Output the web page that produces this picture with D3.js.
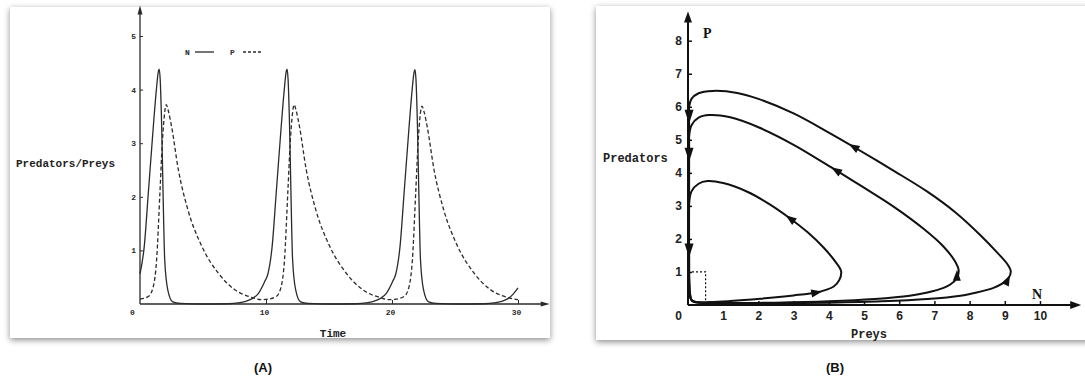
<!DOCTYPE html>
<html>
<head>
<meta charset="utf-8">
<script src="https://d3js.org/d3.v7.min.js"></script>
<style>
    body { margin: 0; background: #fff; }
    svg { display: block; }
</style>
</head>
<body>
<svg id="chart" width="1085" height="381"></svg>
<script>
// Panel A: time series, [time, value]
const preysN = [
    [0, 0.56], [0.34, 1.08], [0.66, 2.07], [1.06, 3.32], [1.3, 4.0], [1.45, 4.33], [1.52, 4.38],
    [1.6, 4.2], [1.72, 3.32], [1.83, 2.07], [1.96, 0.83], [2.2, 0.27], [2.6, 0.04], [3.2, 0.01],
    [5, 0], [7, 0.005], [7.8, 0.02], [8.4, 0.05], [8.9, 0.1], [9.4, 0.2], [9.9, 0.42],
    [10.15, 0.56], [10.49, 1.08], [10.81, 2.07], [11.21, 3.32], [11.45, 4.0], [11.6, 4.33], [11.67, 4.38],
    [11.75, 4.2], [11.87, 3.32], [11.98, 2.07], [12.11, 0.83], [12.35, 0.27], [12.75, 0.04], [13.35, 0.01],
    [15.15, 0], [17.15, 0.005], [17.95, 0.02], [18.55, 0.05], [19.05, 0.1], [19.55, 0.2], [20.05, 0.42],
    [20.3, 0.56], [20.64, 1.08], [20.96, 2.07], [21.36, 3.32], [21.6, 4.0], [21.75, 4.32], [21.82, 4.37],
    [21.9, 4.2], [22.02, 3.32], [22.13, 2.07], [22.26, 0.83], [22.5, 0.27], [22.9, 0.04], [23.5, 0.01],
    [25.3, 0], [27.3, 0.005], [28.1, 0.02], [28.7, 0.05], [29.2, 0.1], [29.6, 0.18], [30.0, 0.3]
];
const predatorsP = [
    [0, 0.09], [0.66, 0.14], [1.06, 0.33], [1.32, 0.83], [1.58, 2.07], [1.77, 3.0], [1.95, 3.55],
    [2.08, 3.72], [2.25, 3.6], [2.5, 3.32], [3.04, 2.51], [3.8, 1.76], [4.9, 1.08], [6.2, 0.58],
    [7.5, 0.27], [8.9, 0.12], [9.6, 0.08],
    [10.15, 0.09], [10.81, 0.14], [11.21, 0.33], [11.47, 0.83], [11.73, 2.07], [11.92, 3.0], [12.1, 3.55],
    [12.23, 3.72], [12.4, 3.6], [12.65, 3.32], [13.19, 2.51], [13.95, 1.76], [15.05, 1.08], [16.35, 0.58],
    [17.65, 0.27], [19.05, 0.12], [19.75, 0.08],
    [20.3, 0.09], [20.96, 0.14], [21.36, 0.33], [21.62, 0.83], [21.88, 2.07], [22.07, 3.0], [22.25, 3.55],
    [22.38, 3.69], [22.55, 3.58], [22.8, 3.3], [23.34, 2.5], [24.1, 1.76], [25.2, 1.08], [26.5, 0.58],
    [27.8, 0.27], [29.2, 0.12], [30.0, 0.08]
];
const timeTicks = [0, 10, 20, 30];
const popTicks = [1, 2, 3, 4, 5];

// Panel B: phase plane, [N, P], counterclockwise
const orbitLarge = [
    [0.03, 6.0], [0.1, 6.24], [0.3, 6.41], [0.7, 6.48], [1.4, 6.42], [2.0, 6.24], [3.0, 5.8],
    [4.0, 5.22], [4.7, 4.79], [5.8, 4.09], [6.8, 3.43], [7.6, 2.8], [8.3, 2.12], [8.8, 1.57],
    [9.07, 1.24], [9.17, 1.02], [9.1, 0.8], [8.9, 0.63], [8.68, 0.52], [8.2, 0.38], [7.74, 0.28],
    [6.8, 0.18], [5.5, 0.11], [4, 0.07], [2.5, 0.05], [1, 0.05], [0.35, 0.07], [0.12, 0.12],
    [0.05, 0.4], [0.03, 1.5], [0.03, 3.5], [0.03, 5.0], [0.03, 6.0]
];
const orbitMiddle = [
    [0.03, 5.1], [0.1, 5.44], [0.3, 5.67], [0.6, 5.75], [1.2, 5.68], [2.0, 5.38], [3.0, 4.85],
    [4.2, 4.08], [5.0, 3.55], [5.85, 2.97], [6.7, 2.3], [7.25, 1.78], [7.58, 1.33], [7.69, 1.05],
    [7.64, 0.82], [7.45, 0.62], [7.26, 0.52], [6.8, 0.38], [6.3, 0.28], [5.3, 0.18], [4, 0.11],
    [2.5, 0.07], [1, 0.06], [0.35, 0.07], [0.12, 0.12], [0.05, 0.4], [0.03, 1.5], [0.03, 3.5],
    [0.03, 5.1]
];
const orbitSmall = [
    [0.03, 3.05], [0.1, 3.44], [0.3, 3.67], [0.55, 3.75], [1.0, 3.69], [1.7, 3.42], [2.3, 3.06],
    [2.9, 2.62], [3.4, 2.2], [3.85, 1.74], [4.18, 1.32], [4.35, 1.02], [4.3, 0.76], [4.14, 0.56],
    [3.9, 0.45], [3.66, 0.38], [3.0, 0.29], [2.05, 0.19], [1.2, 0.12], [0.63, 0.09], [0.2, 0.1],
    [0.07, 0.2], [0.04, 0.6], [0.03, 1.5], [0.03, 2.4], [0.03, 3.05]
];
// flow arrows: [N, P, dN, dP]
const flowArrows = [
    [4.7, 4.79, -1, 0.63], [9.08, 0.76, 0.45, 1],
    [4.2, 4.08, -1, 0.65], [7.64, 0.9, 0.02, 1],
    [2.9, 2.62, -1, 0.78], [3.66, 0.38, 1, 0.2],
    [0.03, 5.7, 0, -1], [0.03, 4.55, 0, -1], [0.03, 1.65, 0, -1]
];
const equilibrium = [[0, 1], [0.5, 1], [0.5, 0]];
const preyTicks = [0, 1, 2, 3, 4, 5, 6, 7, 8, 9, 10];
const predTicks = [1, 2, 3, 4, 5, 6, 7, 8];

const svg = d3.select('#chart');

// Drop shadow for the cards
const filter = svg.append('defs').append('filter')
    .attr('id', 'shadow')
    .attr('x', '-5%').attr('y', '-5%')
    .attr('width', '110%').attr('height', '115%');
filter.append('feDropShadow')
    .attr('dx', 0).attr('dy', 2)
    .attr('stdDeviation', 3)
    .attr('flood-color', '#000')
    .attr('flood-opacity', 0.45);

svg.append('rect')
    .attr('x', 10).attr('y', 7).attr('width', 540).attr('height', 331)
    .attr('fill', '#fff').attr('filter', 'url(#shadow)');
svg.append('rect')
    .attr('x', 596).attr('y', 6).attr('width', 520).attr('height', 334)
    .attr('fill', '#fff').attr('filter', 'url(#shadow)');

// Filled triangle pointing along (dx, dy)
function arrowHead(g, x, y, dx, dy, len, wid, color) {
    const a = Math.atan2(dy, dx) * 180 / Math.PI;
    g.append('path')
        .attr('d', `M${len / 2},0 L${-len / 2},${-wid / 2} L${-len / 2},${wid / 2} Z`)
        .attr('transform', `translate(${x},${y}) rotate(${a})`)
        .attr('fill', color);
}

// ---------- Panel A ----------
const xA = d3.scaleLinear().domain([0, 30]).range([140, 518]);
const yA = d3.scaleLinear().domain([0, 5]).range([304, 36]);
const inkA = '#2b2b2b';
const gA = svg.append('g');

// axes lines with arrows
gA.append('line')
    .attr('x1', xA(0)).attr('y1', yA(0)).attr('x2', xA(32)).attr('y2', yA(0))
    .attr('stroke', inkA).attr('stroke-width', 1.3);
gA.append('line')
    .attr('x1', xA(0)).attr('y1', yA(0)).attr('x2', xA(0)).attr('y2', yA(5.45))
    .attr('stroke', inkA).attr('stroke-width', 1.3);
arrowHead(gA, xA(32) + 2, yA(0), 1, 0, 9, 5, inkA);
arrowHead(gA, xA(0), yA(5.45) - 2, 0, -1, 9, 5, inkA);

const axAy = gA.append('g')
    .attr('transform', `translate(${xA(0)},0)`)
    .call(d3.axisLeft(yA).tickValues(popTicks).tickFormat(d3.format('d'))
        .tickSizeInner(-3).tickSizeOuter(0).tickPadding(4));
const axAx = gA.append('g')
    .attr('transform', `translate(0,${yA(0)})`)
    .call(d3.axisBottom(xA).tickValues(timeTicks).tickFormat(d3.format('d'))
        .tickSizeInner(-4).tickSizeOuter(0).tickPadding(5));
[axAy, axAx].forEach(ax => {
    ax.select('.domain').remove();
    ax.selectAll('line').attr('stroke', inkA);
    ax.selectAll('text')
        .attr('font-family', 'Liberation Mono, monospace')
        .attr('font-weight', 'bold')
        .attr('font-size', 8)
        .attr('fill', inkA);
});
axAx.selectAll('.tick').filter(d => d === 0).select('text').attr('x', -6);
axAx.selectAll('.tick').filter(d => d === 0).select('line').remove();
axAx.selectAll('text').attr('dx', -2);

const lineA = d3.line()
    .x(d => xA(d[0]))
    .y(d => yA(d[1]))
    .curve(d3.curveMonotoneX);

gA.append('path')
    .datum(predatorsP)
    .attr('d', lineA)
    .attr('fill', 'none')
    .attr('stroke', inkA)
    .attr('stroke-width', 1.3)
    .attr('stroke-dasharray', '4,2.5');
gA.append('path')
    .datum(preysN)
    .attr('d', lineA)
    .attr('fill', 'none')
    .attr('stroke', inkA)
    .attr('stroke-width', 1.3);

// legend
const legFont = g => g.attr('font-family', 'Liberation Mono, monospace')
    .attr('font-weight', 'bold').attr('font-size', 8).attr('fill', inkA);
gA.append('text').attr('x', 185).attr('y', 55).text('N').call(legFont);
gA.append('line').attr('x1', 195).attr('x2', 214).attr('y1', 52).attr('y2', 52)
    .attr('stroke', inkA).attr('stroke-width', 1.3);
gA.append('text').attr('x', 230).attr('y', 55).text('P').call(legFont);
gA.append('line').attr('x1', 243).attr('x2', 263).attr('y1', 52).attr('y2', 52)
    .attr('stroke', inkA).attr('stroke-width', 1.3).attr('stroke-dasharray', '3,2');

// titles
const titleFont = g => g.attr('font-family', 'Liberation Mono, monospace')
    .attr('font-weight', 'bold').attr('fill', '#222');
gA.append('text').attr('x', 16).attr('y', 167).attr('font-size', 11)
    .text('Predators/Preys').call(titleFont);
gA.append('text').attr('x', 333).attr('y', 337).attr('font-size', 11)
    .attr('text-anchor', 'middle').text('Time').call(titleFont);

// ---------- Panel B ----------
const xB = d3.scaleLinear().domain([0, 10]).range([688, 1040]);
const yB = d3.scaleLinear().domain([0, 8]).range([305, 40.7]);
const inkB = '#111';
const gB = svg.append('g');

gB.append('line')
    .attr('x1', xB(0)).attr('y1', yB(0)).attr('x2', xB(10.9)).attr('y2', yB(0))
    .attr('stroke', inkB).attr('stroke-width', 2);
gB.append('line')
    .attr('x1', xB(0)).attr('y1', yB(0)).attr('x2', xB(0)).attr('y2', yB(8.6))
    .attr('stroke', inkB).attr('stroke-width', 2);
arrowHead(gB, xB(10.9) + 4, yB(0), 1, 0, 11, 8, inkB);
arrowHead(gB, xB(0), yB(8.6) - 4, 0, -1, 11, 8, inkB);

const axBy = gB.append('g')
    .attr('transform', `translate(${xB(0)},0)`)
    .call(d3.axisLeft(yB).tickValues(predTicks).tickSizeInner(-4).tickSizeOuter(0).tickPadding(6));
const axBx = gB.append('g')
    .attr('transform', `translate(0,${yB(0)})`)
    .call(d3.axisBottom(xB).tickValues(preyTicks).tickSizeInner(-4).tickSizeOuter(0).tickPadding(6));
[axBy, axBx].forEach(ax => {
    ax.select('.domain').remove();
    ax.selectAll('line').attr('stroke', inkB).attr('stroke-width', 1.5);
    ax.selectAll('text')
        .attr('font-family', 'Liberation Sans, Arial, sans-serif')
        .attr('font-weight', 'bold')
        .attr('font-size', 12)
        .attr('fill', '#222');
});
axBx.selectAll('.tick').filter(d => d === 0).select('text').attr('x', -10);
axBx.selectAll('.tick').filter(d => d === 0).select('line').remove();

// equilibrium guide
gB.append('path')
    .datum(equilibrium)
    .attr('d', d3.line().x(d => xB(d[0])).y(d => yB(d[1])))
    .attr('fill', 'none')
    .attr('stroke', inkB)
    .attr('stroke-width', 1.2)
    .attr('stroke-dasharray', '2,2');

const lineB = d3.line()
    .x(d => xB(d[0]))
    .y(d => yB(d[1]))
    .curve(d3.curveCatmullRom.alpha(0.5));

[orbitSmall, orbitMiddle, orbitLarge].forEach(orbit => {
    gB.append('path')
        .datum(orbit)
        .attr('d', lineB)
        .attr('fill', 'none')
        .attr('stroke', inkB)
        .attr('stroke-width', 2)
        .attr('stroke-linejoin', 'round');
});

flowArrows.forEach(d => {
    const px = xB(d[0]), py = yB(d[1]);
    const dx = xB(d[0] + d[2]) - xB(d[0]);
    const dy = yB(d[1] + d[3]) - yB(d[1]);
    const onAxis = d[2] === 0;
    arrowHead(gB, px, py, dx, dy, onAxis ? 14 : 11, onAxis ? 9 : 8, inkB);
});

gB.append('text').attr('x', 703).attr('y', 38)
    .attr('font-family', 'Liberation Serif, serif').attr('font-weight', 'bold')
    .attr('font-size', 14).attr('fill', '#111').text('P');
gB.append('text').attr('x', 1032).attr('y', 299)
    .attr('font-family', 'Liberation Serif, serif').attr('font-weight', 'bold')
    .attr('font-size', 14).attr('fill', '#111').text('N');
gB.append('text').attr('x', 603).attr('y', 162).attr('font-size', 12)
    .text('Predators').call(titleFont);
gB.append('text').attr('x', 869).attr('y', 338).attr('font-size', 12)
    .attr('text-anchor', 'middle').text('Preys').call(titleFont);

// panel captions
svg.selectAll('text.caption')
    .data([['(A)', 263], ['(B)', 835]])
    .enter()
    .append('text')
    .attr('class', 'caption')
    .attr('x', d => d[1])
    .attr('y', 372)
    .attr('text-anchor', 'middle')
    .attr('font-family', 'Liberation Sans, Arial, sans-serif')
    .attr('font-weight', 'bold')
    .attr('font-size', 13)
    .attr('fill', '#111')
    .text(d => d[0]);
</script>
</body>
</html>
